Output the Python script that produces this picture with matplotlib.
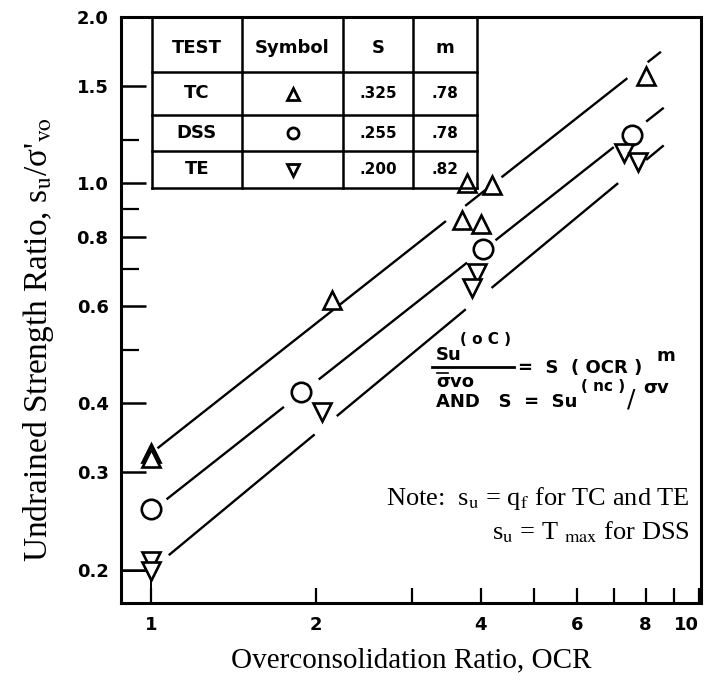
import matplotlib.pyplot as plt
from matplotlib.lines import Line2D
import numpy as np

plt.rcParams['mathtext.fontset'] = 'stix'

W, H = 706, 693

# points (OCR, su/sigma'vo)
tc_ocr = [1.0, 1.0, 2.14, 3.78, 4.20, 3.69, 4.01, 8.03]
tc_su = [0.325, 0.318, 0.615, 1.00, 0.992, 0.858, 0.844, 1.566]
dss_ocr = [1.0, 1.88, 4.03, 7.57]
dss_su = [0.257, 0.420, 0.761, 1.221]
te_ocr = [1.0, 1.0, 2.05, 3.93, 3.85, 7.32, 7.74]
te_su = [0.207, 0.199, 0.385, 0.689, 0.647, 1.133, 1.091]

# table values
tests = ['TC', 'DSS', 'TE']
symbols = ['^', 'o', 'v']
s_vals = [0.325, 0.255, 0.200]
m_vals = [0.78, 0.78, 0.82]
s_text = ['.325', '.255', '.200']
m_text = ['.78', '.78', '.82']

# OCR ranges where the fitted lines are drawn (gaps around the symbols)
line_segs = [
    [(1.03, 3.44), (3.76, 4.06), (4.38, 7.38), (8.1, 8.5)],
    [(1.07, 1.74), (2.03, 3.76), (4.27, 6.97), (8.05, 8.6)],
    [(1.08, 1.98), (2.19, 3.74), (4.2, 7.1), (8.05, 8.6)],
]

ytick_vals = [0.2, 0.3, 0.4, 0.6, 0.8, 1.0, 1.5, 2.0]
ytick_labels = ['0.2', '0.3', '0.4', '0.6', '0.8', '1.0', '1.5', '2.0']
ytick_minor = [0.5, 0.7, 0.9, 1.2]
xtick_vals = [1, 2, 3, 4, 5, 6, 7, 8, 9, 10]
xtick_labels = ['1', '2', '', '4', '', '6', '', '8', '', '10']


def fp(x, y):
    # pixel position (from top-left) -> figure fraction
    return x / W, 1 - y / H


fig = plt.figure(figsize=(W / 100, H / 100), dpi=100)
ax = fig.add_axes([121 / W, 90 / H, 580 / W, 586 / H])
ax.set_xscale('log')
ax.set_yscale('log')
ax.set_xlim(0.88, 10.1)
ax.set_ylim(0.174, 2.0)

# fitted lines su/s'vo = S * OCR^m
for segs, s, m in zip(line_segs, s_vals, m_vals):
    for a, b in segs:
        xx = np.linspace(a, b, 30)
        ax.plot(xx, s * xx ** m, color='black', lw=1.7, zorder=2)

# guide lines to the lowest TE point
ax.plot([1, 1], [0.174, te_su[1]], color='black', lw=1.4, zorder=2)
ax.plot([0.88, 1], [te_su[1], te_su[1]], color='black', lw=1.4, zorder=2)

mk = dict(mfc='white', mec='black', mew=1.9, ls='none', zorder=3)
ax.plot(tc_ocr, tc_su, marker='^', ms=13, **mk)
ax.plot(dss_ocr, dss_su, marker='o', ms=14, **mk)
ax.plot(te_ocr, te_su, marker='v', ms=13, **mk)

for sp in ax.spines.values():
    sp.set_linewidth(2.2)

ax.set_yticks(ytick_vals)
ax.set_yticklabels(ytick_labels)
ax.set_yticks(ytick_minor, minor=True)
ax.set_yticklabels([''] * len(ytick_minor), minor=True)
ax.set_xticks(xtick_vals)
ax.set_xticklabels(xtick_labels)
ax.set_xticks([], minor=True)
ax.tick_params(axis='y', which='major', direction='in', length=18, width=1.8,
               pad=9, labelsize=13)
ax.tick_params(axis='y', which='minor', direction='in', length=13, width=1.6)
ax.tick_params(axis='x', which='major', direction='in', length=11, width=1.6,
               pad=9, labelsize=13)
for lab in ax.get_xticklabels() + ax.get_yticklabels():
    lab.set_fontweight('bold')
ax.get_xticklabels()[-1].set_horizontalalignment('right')

ax.set_xlabel('Overconsolidation Ratio, OCR', family='Liberation Serif',
              fontsize=21, labelpad=10)
ax.set_ylabel("Undrained Strength Ratio, s$_\\mathrm{u}$/σ'$_\\mathrm{vo}$",
              family='Liberation Serif', fontsize=24)
ax.yaxis.set_label_coords(-0.112, 0.45)

# table in the upper left corner
rows_y = [18, 72, 115, 151, 188]
cols_x = [152, 242, 343, 413, 477]
for y in rows_y[1:]:
    fig.add_artist(Line2D(*zip(fp(cols_x[0], y), fp(cols_x[-1], y)),
                          transform=fig.transFigure, color='black', lw=1.8))
for x in cols_x:
    fig.add_artist(Line2D(*zip(fp(x, rows_y[0]), fp(x, rows_y[-1])),
                          transform=fig.transFigure, color='black', lw=1.8))

tb = dict(ha='center', va='center', fontweight='bold', fontsize=13)
cx = [(cols_x[i] + cols_x[i + 1]) / 2 for i in range(4)]
for c, t in zip(cx, ['TEST', 'Symbol', 'S', 'm']):
    fig.text(*fp(c, (rows_y[0] + rows_y[1]) / 2 + 3), t, **tb)
for i in range(3):
    yc = (rows_y[i + 1] + rows_y[i + 2]) / 2
    fig.text(*fp(cx[0], yc), tests[i], **tb)
    fig.add_artist(Line2D([fp(cx[1], yc)[0]], [fp(cx[1], yc)[1]],
                          transform=fig.transFigure, marker=symbols[i], ms=8,
                          mfc='white', mec='black', mew=2))
    fig.text(*fp(cx[2], yc), s_text[i], fontsize=11, ha='center', va='center',
             fontweight='bold')
    fig.text(*fp(cx[3], yc), m_text[i], fontsize=11, ha='center', va='center',
             fontweight='bold')

# equation
eq = dict(fontweight='bold', fontsize=13, va='center', ha='left')
fig.text(*fp(436, 355), 'Su', **eq)
fig.text(*fp(460, 339), '( o C )', fontsize=11, fontweight='bold', va='center')
fig.add_artist(Line2D(*zip(fp(432, 367), fp(514, 367)),
                      transform=fig.transFigure, color='black', lw=2))
fig.text(*fp(436, 382), 'σvo', **eq)
fig.add_artist(Line2D(*zip(fp(437, 373), fp(448, 373)),
                      transform=fig.transFigure, color='black', lw=1.2))
fig.text(*fp(518, 368), '=  S  ( OCR )', **eq)
fig.text(*fp(656, 356), 'm', **eq)
fig.text(*fp(436, 402), 'AND   S  =  Su', **eq)
fig.text(*fp(581, 386), '( nc )', fontsize=11, fontweight='bold', va='center')
fig.text(*fp(627, 399), '/', fontsize=18, va='center')
fig.text(*fp(643, 388), 'σv', **eq)

# note
nt = dict(family='Liberation Serif', fontsize=19, va='center', ha='right')
fig.text(*fp(690, 498), 'Note:  s$_\\mathrm{u}$ = q$_\\mathrm{f}$ for TC and TE', **nt)
fig.text(*fp(690, 532), 's$_\\mathrm{u}$ = T $_\\mathrm{max}$ for DSS', **nt)

fig.savefig('out.png', dpi=100)
